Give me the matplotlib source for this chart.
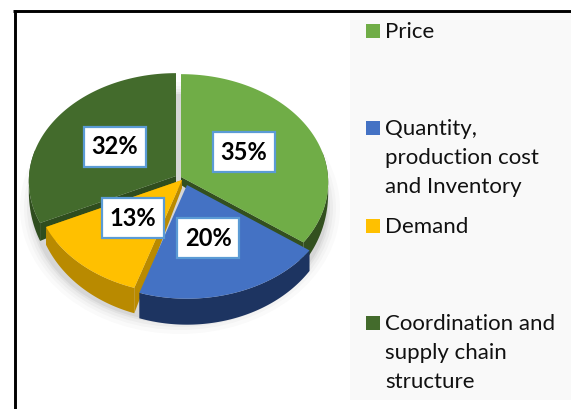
import numpy as np
import matplotlib
matplotlib.use('Agg')
import matplotlib.pyplot as plt
from matplotlib.patches import Polygon, Rectangle, Ellipse

W, H = 571, 409

categories = ['Price', 'Quantity,\nproduction cost\nand Inventory', 'Demand',
              'Coordination and\nsupply chain\nstructure']
values = [35, 20, 13, 32]
top_colors = ['#70ad47', '#4472c4', '#ffc000', '#436b2c']
side_colors = ['#33501f', '#1d3461', '#b98a00', '#2f4d1e']

# pie shape, in pixels of the picture
tips = [(181, 177), (187, 185), (182, 180), (176, 176)]
label_boxes = [(244, 152), (208, 238), (133, 218), (115, 147)]
legend_y = [31, 128, 226, 323]
RX, RY, PERSP = 147, 108, 0.05


def rim(t):
    # t is clockwise from the top of the pie
    u, v = np.sin(t), -np.cos(t)
    s = 1 / (1 - PERSP * v)
    return RX * u * s, RY * v * s


def depth(t):
    v = -np.cos(t)
    return 6 + 20 * np.maximum(v, 0) ** 0.6


plt.rcParams['font.family'] = ['Lato', 'DejaVu Sans']

fig = plt.figure(figsize=(W / 100, H / 100), dpi=100)
ax = fig.add_axes([0, 0, 1, 1])
ax.set_xlim(0, W)
ax.set_ylim(H, 0)
ax.axis('off')

# legend panel and frame
ax.add_patch(Rectangle((350, 12), 221, 388, fc='#f9f9f9', ec='none', zorder=0))
ax.plot([14.5, 14.5], [10, 409], color='black', lw=2.1, zorder=1, solid_capstyle='butt')
ax.plot([13, 571], [11, 11], color='black', lw=2.1, zorder=1, solid_capstyle='butt')

# soft shadow under the pie
for grow, alpha in zip([14, 10, 7, 4, 2], [0.02, 0.025, 0.03, 0.04, 0.05]):
    ax.add_patch(Ellipse((180, 208), 2 * (146 + grow), 2 * (112 + grow),
                         fc='black', ec='none', alpha=alpha, zorder=1))

edges = np.cumsum([0] + values) / sum(values) * 2 * np.pi
draw_order = [3, 0, 2, 1]
for i in draw_order:
    cx, cy = tips[i]
    t = np.linspace(edges[i], edges[i + 1], 80)
    x, y = rim(t)
    x, y = x + cx, y + cy
    d = depth(t)
    z = 2 + draw_order.index(i)

    # outer wall, only the part turned to the viewer
    front = np.cos(t) < 0.25
    if front.any():
        wall = np.r_[np.c_[x[front], y[front]],
                     np.c_[x[front], y[front] + d[front]][::-1]]
        ax.add_patch(Polygon(wall, fc=side_colors[i], ec='none', zorder=z))

    # cut faces
    for end in [0, -1]:
        dd = depth(t[end])
        if np.sin(t[end]) * (1 if end == 0 else -1) < 0 or i == 2:
            face = [(cx, cy), (x[end], y[end]), (x[end], y[end] + dd), (cx, cy + 8)]
            ax.add_patch(Polygon(face, fc=side_colors[i], ec='none', zorder=z))

    ax.add_patch(Polygon(np.r_[[(cx, cy)], np.c_[x, y]], fc=top_colors[i], ec='none',
                         zorder=z + 0.1))

# value labels
for i, (bx, by) in enumerate(label_boxes):
    ax.add_patch(Rectangle((bx - 31, by - 20), 62, 40, fc='white', ec='#5b9bd5', lw=1.6, zorder=9))
    ax.text(bx, by, f'{values[i]}%', ha='center', va='center', fontsize=17,
            fontweight='bold', color='black', zorder=10)

# legend
for i, label in enumerate(categories):
    ax.add_patch(Rectangle((366, legend_y[i] - 7), 14, 14, fc=top_colors[i], ec='none', zorder=3))
    for j, line in enumerate(label.split('\n')):
        ax.text(385, legend_y[i] + 7 + 29 * j, line, ha='left', va='baseline', fontsize=16,
                color='#111111', zorder=3)

fig.savefig('out.png', dpi=100)
